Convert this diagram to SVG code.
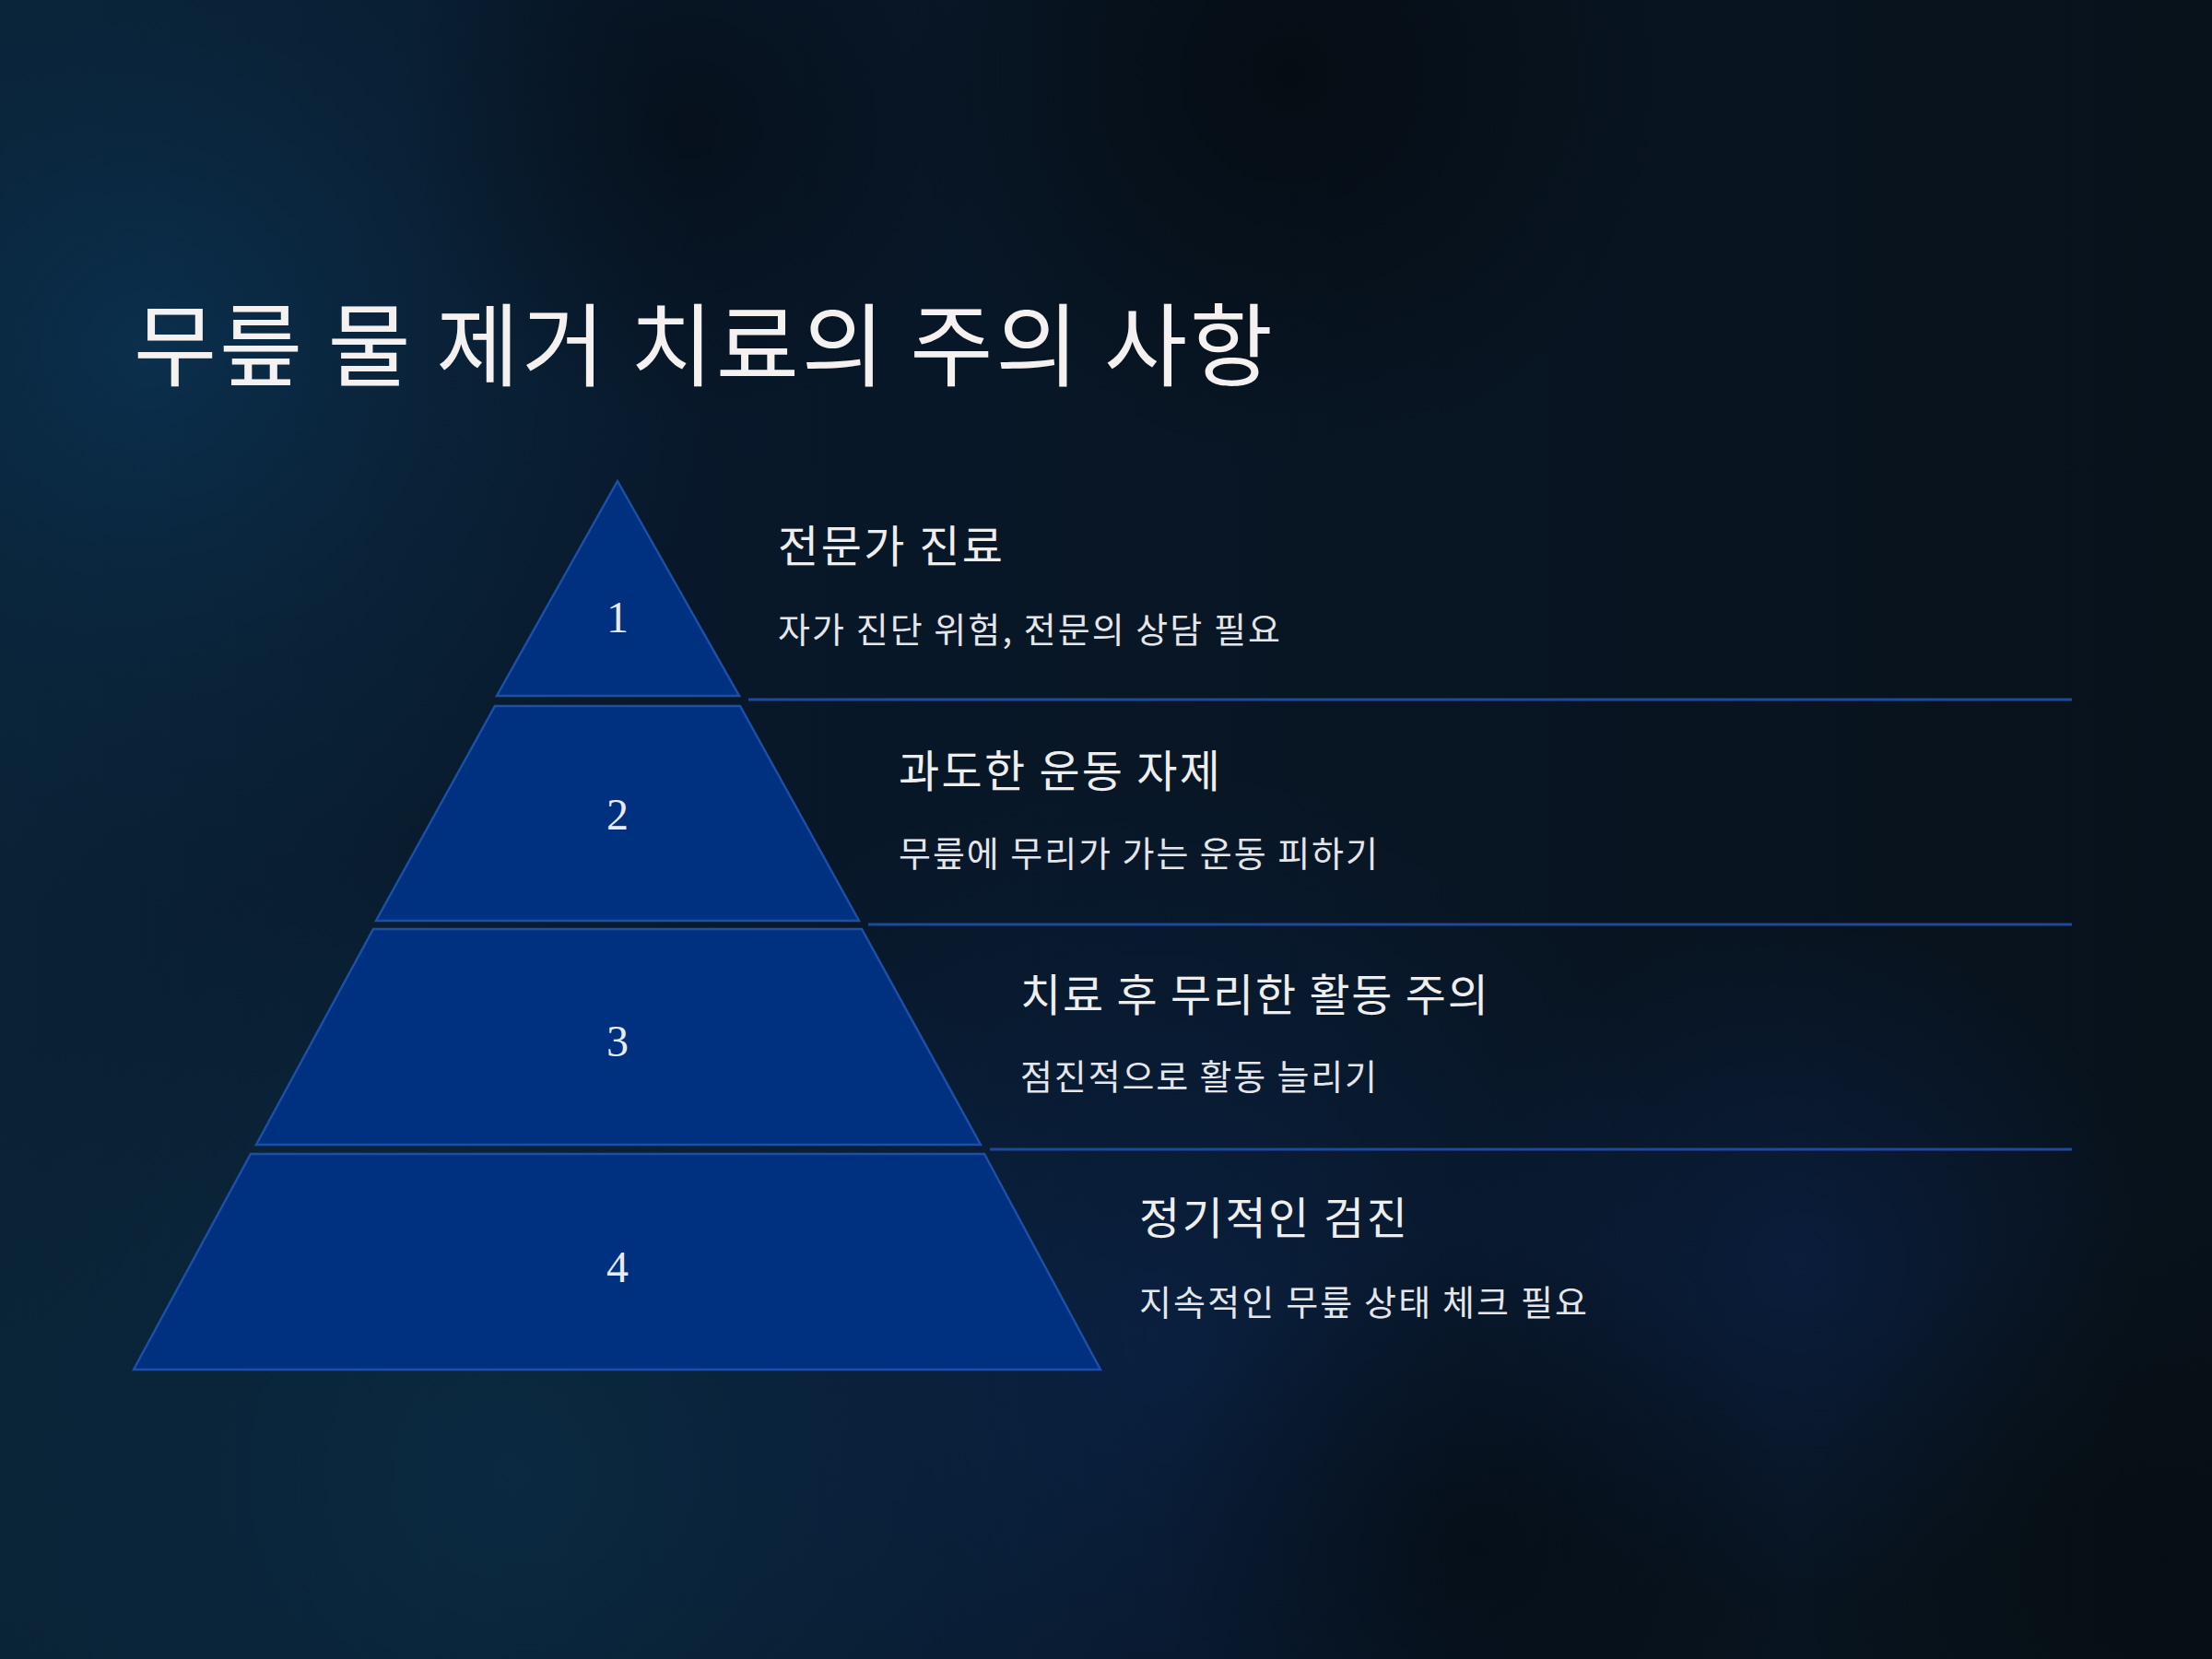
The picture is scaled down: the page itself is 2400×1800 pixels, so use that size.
<svg xmlns="http://www.w3.org/2000/svg" width="2400" height="1800" viewBox="0 0 2400 1800">
  <defs>
    <linearGradient id="gBase" x1="0" y1="0" x2="1" y2="0">
      <stop offset="0" stop-color="#0a2235"/>
      <stop offset="0.3" stop-color="#08182a"/>
      <stop offset="1" stop-color="#08121b"/>
    </linearGradient>
    <radialGradient id="gLeft" cx="160" cy="380" r="620" gradientUnits="userSpaceOnUse">
      <stop offset="0" stop-color="#0b3150" stop-opacity="0.9"/>
      <stop offset="0.6" stop-color="#0a2740" stop-opacity="0.45"/>
      <stop offset="1" stop-color="#0a2740" stop-opacity="0"/>
    </radialGradient>
    <radialGradient id="gBL" cx="560" cy="1600" r="700" gradientUnits="userSpaceOnUse">
      <stop offset="0" stop-color="#0b2f48" stop-opacity="0.75"/>
      <stop offset="1" stop-color="#0b2f48" stop-opacity="0"/>
    </radialGradient>
    <radialGradient id="gBC" cx="1250" cy="1450" r="620" gradientUnits="userSpaceOnUse">
      <stop offset="0" stop-color="#0b2650" stop-opacity="0.6"/>
      <stop offset="1" stop-color="#0b2650" stop-opacity="0"/>
    </radialGradient>
    <radialGradient id="gR" cx="1950" cy="1370" r="380" gradientUnits="userSpaceOnUse">
      <stop offset="0" stop-color="#0c2452" stop-opacity="0.55"/>
      <stop offset="1" stop-color="#0c2452" stop-opacity="0"/>
    </radialGradient>
    <radialGradient id="gDark1" cx="1400" cy="80" r="420" gradientUnits="userSpaceOnUse">
      <stop offset="0" stop-color="#04090d" stop-opacity="0.7"/>
      <stop offset="1" stop-color="#04090d" stop-opacity="0"/>
    </radialGradient>
    <radialGradient id="gDark2" cx="1600" cy="1680" r="350" gradientUnits="userSpaceOnUse">
      <stop offset="0" stop-color="#04090d" stop-opacity="0.6"/>
      <stop offset="1" stop-color="#04090d" stop-opacity="0"/>
    </radialGradient>
    <radialGradient id="gDark3" cx="750" cy="140" r="320" gradientUnits="userSpaceOnUse">
      <stop offset="0" stop-color="#050c14" stop-opacity="0.6"/>
      <stop offset="1" stop-color="#050c14" stop-opacity="0"/>
    </radialGradient>
    <radialGradient id="gDark4" cx="2350" cy="1700" r="400" gradientUnits="userSpaceOnUse">
      <stop offset="0" stop-color="#060d10" stop-opacity="0.7"/>
      <stop offset="1" stop-color="#060d10" stop-opacity="0"/>
    </radialGradient>
    <style>
      .layer { fill: #003080; stroke: #1d4fa6; stroke-width: 2.5; stroke-linejoin: miter; }
      .num { font-family: "Liberation Serif", "DejaVu Serif", serif; font-size: 48px; fill: #e8ebf2; text-anchor: middle; }
      .title { font-family: "Noto Sans CJK KR", "Noto Sans", sans-serif; font-size: 98px; fill: #f5f1f1; }
      .head { font-family: "Noto Sans CJK KR", "Noto Sans", sans-serif; font-size: 48px; fill: #eeeeee; }
      .sub { font-family: "Noto Sans CJK KR", "Noto Sans", sans-serif; font-size: 38px; fill: #e4e6ea; }
      .sep { stroke: #1d4a9a; stroke-width: 3; fill: none; }
    </style>
  </defs>

  <rect width="2400" height="1800" fill="url(#gBase)"/>
  <rect width="2400" height="1800" fill="url(#gLeft)"/>
  <rect width="2400" height="1800" fill="url(#gBL)"/>
  <rect width="2400" height="1800" fill="url(#gBC)"/>
  <rect width="2400" height="1800" fill="url(#gR)"/>
  <rect width="2400" height="1800" fill="url(#gDark1)"/>
  <rect width="2400" height="1800" fill="url(#gDark2)"/>
  <rect width="2400" height="1800" fill="url(#gDark3)"/>
  <rect width="2400" height="1800" fill="url(#gDark4)"/>

  <text id="title" class="title" x="145" y="411" textLength="1236" lengthAdjust="spacing">무릎 물 제거 치료의 주의 사항</text>

  <g id="connectors">
    <line class="sep" x1="812" y1="759" x2="2248" y2="759"/>
    <line class="sep" x1="942" y1="1003" x2="2248" y2="1003"/>
    <line class="sep" x1="1074" y1="1247" x2="2248" y2="1247"/>
  </g>

  <g id="layer1">
    <polygon class="layer" points="670,522 802,755 539,755"/>
    <text class="num" x="670" y="686">1</text>
    <text class="head" x="844" y="610" textLength="244" lengthAdjust="spacing">전문가 진료</text>
    <text class="sub" x="844" y="697" textLength="545" lengthAdjust="spacing">자가 진단 위험, 전문의 상담 필요</text>
  </g>
  <g id="layer2">
    <polygon class="layer" points="537,766 803,766 932,999 408,999"/>
    <text class="num" x="670" y="900">2</text>
    <text class="head" x="975" y="854" textLength="349" lengthAdjust="spacing">과도한 운동 자제</text>
    <text class="sub" x="975" y="940" textLength="520" lengthAdjust="spacing">무릎에 무리가 가는 운동 피하기</text>
  </g>
  <g id="layer3">
    <polygon class="layer" points="405,1008 935,1008 1064,1242 278,1242"/>
    <text class="num" x="670" y="1146">3</text>
    <text class="head" x="1107" y="1097" textLength="508" lengthAdjust="spacing">치료 후 무리한 활동 주의</text>
    <text class="sub" x="1107" y="1182" textLength="387" lengthAdjust="spacing">점진적으로 활동 늘리기</text>
  </g>
  <g id="layer4">
    <polygon class="layer" points="272,1252 1068,1252 1194,1486 145,1486"/>
    <text class="num" x="670" y="1391">4</text>
    <text class="head" x="1236" y="1339" textLength="291" lengthAdjust="spacing">정기적인 검진</text>
    <text class="sub" x="1236" y="1427" textLength="486" lengthAdjust="spacing">지속적인 무릎 상태 체크 필요</text>
  </g>
</svg>
